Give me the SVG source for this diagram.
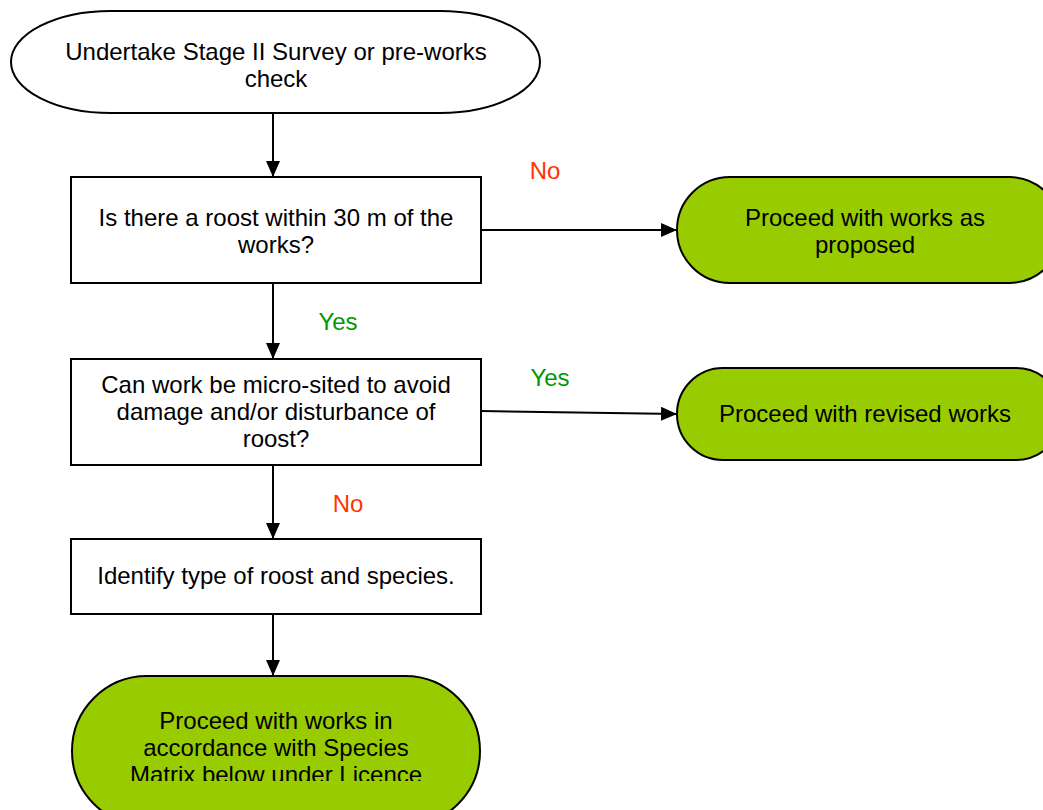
<svg xmlns="http://www.w3.org/2000/svg" width="1043" height="810" viewBox="0 0 1043 810">
<style>
.t{font-family:"Liberation Sans",Arial,sans-serif;font-size:24px;fill:#000;text-anchor:middle}
.no{font-family:"Liberation Sans",Arial,sans-serif;font-size:24px;fill:#ff3300;text-anchor:middle}
.yes{font-family:"Liberation Sans",Arial,sans-serif;font-size:24px;fill:#009900;text-anchor:middle}
.box{fill:#fff;stroke:#000;stroke-width:2}
.term{stroke:#000;stroke-width:2}
.g{fill:#99cc00}
.c{stroke:#000;stroke-width:2;fill:none;marker-end:url(#ah)}
</style>
<defs>
<marker id="ah" markerWidth="16" markerHeight="14" refX="16" refY="7" orient="auto" markerUnits="userSpaceOnUse">
<path d="M0,0 L16,7 L0,14 Z" fill="#000"/>
</marker>
<clipPath id="clip3"><rect x="0" y="0" width="1043" height="781"/></clipPath>
</defs>
<rect width="1043" height="810" fill="#fff"/>
<g id="connectors">
<line class="c" x1="273" y1="113" x2="273" y2="177"/>
<line class="c" x1="481" y1="230" x2="677" y2="230"/>
<line class="c" x1="273" y1="283" x2="273" y2="359"/>
<line class="c" x1="481" y1="411" x2="677" y2="414"/>
<line class="c" x1="273" y1="465" x2="273" y2="539"/>
<line class="c" x1="273" y1="614" x2="273" y2="676"/>
<text class="no" x="545" y="179">No</text>
<text class="yes" x="338" y="330">Yes</text>
<text class="yes" x="550" y="386">Yes</text>
<text class="no" x="348" y="512">No</text>
</g>
<g id="start">
<rect class="term" x="11" y="11" width="529" height="102" rx="100" ry="51" fill="#fff"/>
<text class="t" x="276" y="60">Undertake Stage II Survey or pre-works</text>
<text class="t" x="276" y="87">check</text>
</g>
<g id="q1">
<rect class="box" x="71" y="177" width="410" height="106"/>
<text class="t" x="276" y="226">Is there a roost within 30 m of the</text>
<text class="t" x="276" y="253">works?</text>
</g>
<g id="proceed1">
<rect class="term g" x="677" y="177" width="385" height="106" rx="53" ry="53"/>
<text class="t" x="865" y="226">Proceed with works as</text>
<text class="t" x="865" y="253">proposed</text>
</g>
<g id="q2">
<rect class="box" x="71" y="359" width="410" height="106"/>
<text class="t" x="276" y="393">Can work be micro-sited to avoid</text>
<text class="t" x="276" y="420">damage and/or disturbance of</text>
<text class="t" x="276" y="447">roost?</text>
</g>
<g id="proceed2">
<rect class="term g" x="677" y="368" width="385" height="92" rx="46" ry="46"/>
<text class="t" x="865" y="422">Proceed with revised works</text>
</g>
<g id="identify">
<rect class="box" x="71" y="539" width="410" height="75"/>
<text class="t" x="276" y="584">Identify type of roost and species.</text>
</g>
<g id="proceed3">
<rect class="term g" x="72" y="676" width="408" height="150" rx="75" ry="75"/>
<g clip-path="url(#clip3)">
<text class="t" x="276" y="729">Proceed with works in</text>
<text class="t" x="276" y="756">accordance with Species</text>
<text class="t" x="276" y="783">Matrix below under Licence</text>
</g>
</g>
</svg>
